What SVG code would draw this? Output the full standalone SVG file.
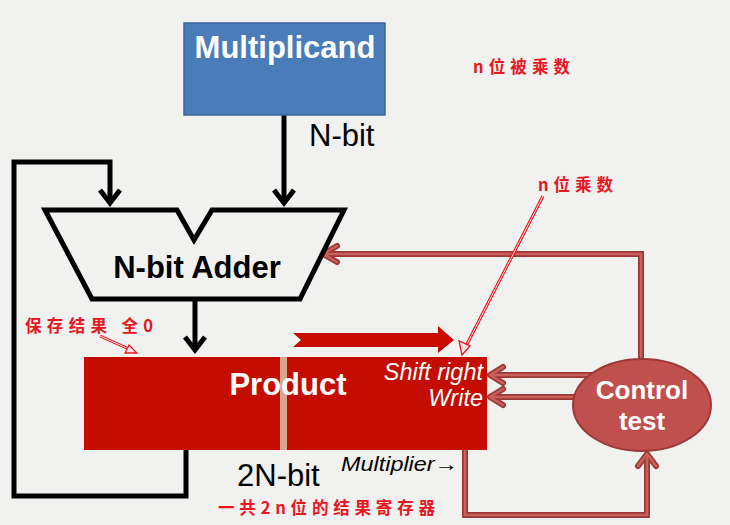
<svg xmlns="http://www.w3.org/2000/svg" width="730" height="525" viewBox="0 0 730 525">
<defs>
<style>
.bk{fill:none;stroke:#000;stroke-width:5;stroke-linejoin:miter}
.ch{fill:none;stroke:#000;stroke-width:5;stroke-linecap:butt;stroke-linejoin:miter}
.ro{fill:none;stroke:#9c3835;stroke-width:6;stroke-linejoin:miter}
.ri{fill:none;stroke:#c9605c;stroke-width:2.5;stroke-linejoin:miter}
.roc{fill:none;stroke:#9c3835;stroke-width:6;stroke-linecap:round;stroke-linejoin:round}
.ric{fill:none;stroke:#c9605c;stroke-width:2.5;stroke-linecap:round;stroke-linejoin:round}
.lb{font-family:"Liberation Sans",Arial,sans-serif;font-weight:bold;font-size:31px}
.lr{font-family:"Liberation Sans",Arial,sans-serif;font-size:31px;fill:#000}
.it{font-family:"Liberation Sans",Arial,sans-serif;font-style:italic;font-size:23.5px}
.cn{font-family:"Noto Sans CJK SC",sans-serif;font-weight:bold;font-size:16.5px;fill:#e8161e}
.an{fill:none;stroke:#e8161e;stroke-width:3}
.ani{fill:none;stroke:#fbe4e4;stroke-width:1}
</style>
</defs>
<rect x="0" y="0" width="730" height="525" fill="#f1f1ef"/>

<g id="connectors">
  <polyline class="bk" points="284,115 284,203"/>
  <polyline class="ch" points="274,190 284,203 294,190"/>
  <polyline class="bk" points="186,450 186,496 14,496 14,162 110,162 110,203"/>
  <polyline class="ch" points="100,190 110,203 120,190"/>
  <polyline class="bk" points="195,299 195,350"/>
  <polyline class="ch" points="185,337 195,350 205,337"/>
  <polyline class="ro" points="641,362 641,254 325,254"/>
  <polyline class="roc" points="337,246 323,254 337,262"/>
  <polyline class="ri" points="641,362 641,254 325,254"/>
  <polyline class="ric" points="337,246 323,254 337,262"/>
  <polyline class="ro" points="600,375 491,375"/>
  <polyline class="roc" points="503,367 490,375 503,383"/>
  <polyline class="ri" points="600,375 491,375"/>
  <polyline class="ric" points="503,367 490,375 503,383"/>
  <polyline class="ro" points="600,397 491,397"/>
  <polyline class="roc" points="503,389 490,397 503,405"/>
  <polyline class="ri" points="600,397 491,397"/>
  <polyline class="ric" points="503,389 490,397 503,405"/>
  <polyline class="ro" points="465,448 465,515 647,515 647,455"/>
  <polyline class="roc" points="638,466 647,454 656,466"/>
  <polyline class="ri" points="465,448 465,515 647,515 647,455"/>
  <polyline class="ric" points="638,466 647,454 656,466"/>
</g>

<g id="multiplicand">
  <rect x="184" y="23" width="201" height="92" fill="#4a7cb9" stroke="#3b6698" stroke-width="1.5"/>
  <text class="lb" x="285" y="58" text-anchor="middle" fill="#fff">Multiplicand</text>
</g>
<g id="nbit-label"><text class="lr" x="309" y="146">N-bit</text></g>

<g id="adder">
  <polygon points="45,210 177,210 194,240 212,210 344,210 300,299 92,299" fill="#f1f1ef" stroke="#000" stroke-width="5" stroke-linejoin="miter"/>
  <text class="lb" x="197" y="278" text-anchor="middle" fill="#000">N-bit Adder</text>
</g>

<g id="shift-arrow">
  <polygon points="293,333 438,333 438,326 454,340 438,353 438,347 293,347 301,340" fill="#c80c00"/>
</g>

<g id="product">
  <rect x="84" y="357" width="403" height="93" fill="#c40c00"/>
  <rect x="280" y="357" width="7" height="93" fill="#d8a68e"/>
  <text class="lb" x="288" y="395" text-anchor="middle" fill="#fff">Product</text>
  <text class="it" x="483" y="380" text-anchor="end" fill="#fff">Shift right</text>
  <text class="it" x="483" y="406" text-anchor="end" fill="#fff">Write</text>
</g>

<g id="control">
  <ellipse cx="642" cy="405" rx="69" ry="46" fill="#c0504d" stroke="#9c3835" stroke-width="2"/>
  <text class="lb" x="642" y="399" text-anchor="middle" fill="#fff" style="font-size:26px">Control</text>
  <text class="lb" x="642" y="430" text-anchor="middle" fill="#fff" style="font-size:26px">test</text>
</g>

<g id="labels">
  <text class="lr" x="237" y="486">2N-bit</text>
  <text class="it" x="341" y="471" fill="#000" style="font-size:20px" textLength="117" lengthAdjust="spacingAndGlyphs">Multiplier→</text>
</g>

<g id="annotations">
  <text class="cn" x="473" y="73" textLength="97" lengthAdjust="spacing">n位被乘数</text>
  <text class="cn" x="538" y="191" textLength="75" lengthAdjust="spacing">n位乘数</text>
  <text class="cn" x="25" y="332" textLength="128" lengthAdjust="spacing">保存结果 全0</text>
  <text class="cn" x="218" y="514" textLength="217" lengthAdjust="spacing">一共2n位的结果寄存器</text>
  <line class="an" x1="543" y1="196" x2="466" y2="346"/>
  <line class="ani" x1="543" y1="196" x2="466" y2="346"/>
  <polygon points="462,355 459,341 470,346" fill="#fbe4e4" stroke="#e8161e" stroke-width="1.3"/>
  <line class="an" x1="100" y1="336" x2="129" y2="349"/>
  <line class="ani" x1="100" y1="336" x2="129" y2="349"/>
  <polygon points="137,353 125,353 129,345" fill="#fbe4e4" stroke="#e8161e" stroke-width="1.3"/>
</g>
</svg>
